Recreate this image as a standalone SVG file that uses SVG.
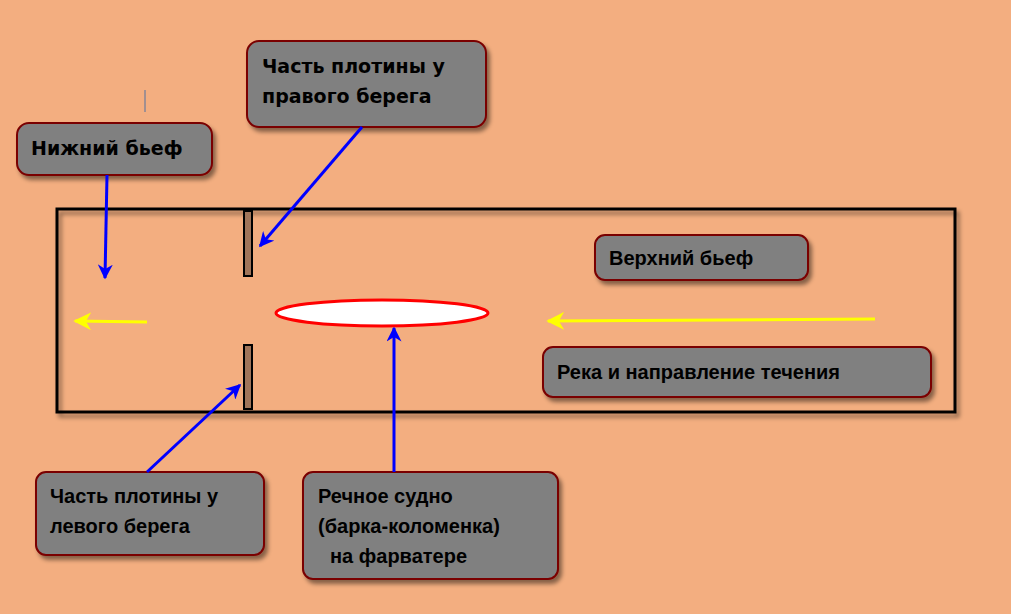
<svg xmlns="http://www.w3.org/2000/svg" width="1011" height="614" viewBox="0 0 1011 614">
<defs>
<filter id="sh" x="-10%" y="-10%" width="130%" height="140%"><feDropShadow dx="3" dy="4" stdDeviation="2" flood-color="#000" flood-opacity="0.45"/></filter>
<marker id="ab" viewBox="0 0 10 10" refX="9" refY="5" markerWidth="5" markerHeight="5" orient="auto"><path d="M0,0 L10,5 L0,10 L3,5 z" fill="#0000ff"/></marker>
<marker id="ay" viewBox="0 0 10 10" refX="9" refY="5" markerWidth="6" markerHeight="6" orient="auto"><path d="M0,0 L10,5 L0,10 L3,5 z" fill="#ffff00"/></marker>
</defs>
<style>
.b{fill:#808080;stroke:#7a0000;stroke-width:2;filter:url(#sh)}
.t{font-family:"DejaVu Sans",sans-serif;font-weight:bold;font-size:19px;fill:#000}
.n{font-family:"Liberation Sans",sans-serif;font-weight:bold;font-size:20px;fill:#000}
.cb{stroke:#0000ff;stroke-width:3;fill:none;marker-end:url(#ab)}
.cy{stroke:#ffff00;stroke-width:3;fill:none;marker-end:url(#ay)}
</style>
<rect width="1011" height="614" fill="#f3ae80"/>
<line x1="145" y1="90" x2="145" y2="112" stroke="#5070a0" stroke-width="1"/>
<g id="river"><rect x="57" y="209" width="898" height="203" fill="none" stroke="#000" stroke-width="3" filter="url(#sh)"/></g>
<g id="dam-top"><rect x="244" y="211" width="8" height="65" fill="#a0755a" stroke="#000" stroke-width="2"/></g>
<g id="dam-bottom"><rect x="244" y="345" width="8" height="64" fill="#a0755a" stroke="#000" stroke-width="2"/></g>
<g id="boat"><ellipse cx="382" cy="313" rx="106" ry="13" fill="#fff" stroke="#ff0000" stroke-width="3"/></g>
<g id="n-right"><rect class="b" x="247" y="41" width="239" height="86" rx="12"/><text class="t" x="262" y="73">Часть плотины у</text><text class="t" x="262" y="103">правого берега</text></g>
<g id="n-lower"><rect class="b" x="17" y="123" width="195" height="52" rx="12"/><text class="t" x="31" y="155">Нижний бьеф</text></g>
<g id="n-upper"><rect class="b" x="595" y="235" width="213" height="45" rx="10"/><text class="n" x="609" y="265">Верхний бьеф</text></g>
<g id="n-river"><rect class="b" x="543" y="347" width="388" height="50" rx="10"/><text class="n" x="557" y="379">Река и направление течения</text></g>
<g id="n-left"><rect class="b" x="36" y="472" width="228" height="83" rx="10"/><text class="n" x="50" y="503">Часть плотины у</text><text class="n" x="50" y="533">левого берега</text></g>
<g id="n-ship"><rect class="b" x="303" y="472" width="255" height="107" rx="10"/><text class="n" x="318" y="503">Речное судно</text><text class="n" x="318" y="533">(барка-коломенка)</text><text class="n" x="330" y="563">на фарватере</text></g>
<g id="connectors">
<line class="cb" x1="107" y1="175" x2="105" y2="278"/>
<line class="cb" x1="362" y1="127" x2="260" y2="246"/>
<line class="cb" x1="147" y1="472" x2="240" y2="385"/>
<line class="cb" x1="394" y1="472" x2="394" y2="328"/>
<line class="cy" x1="147" y1="322" x2="75" y2="321"/>
<line class="cy" x1="875" y1="319" x2="548" y2="321"/>
</g>
</svg>
